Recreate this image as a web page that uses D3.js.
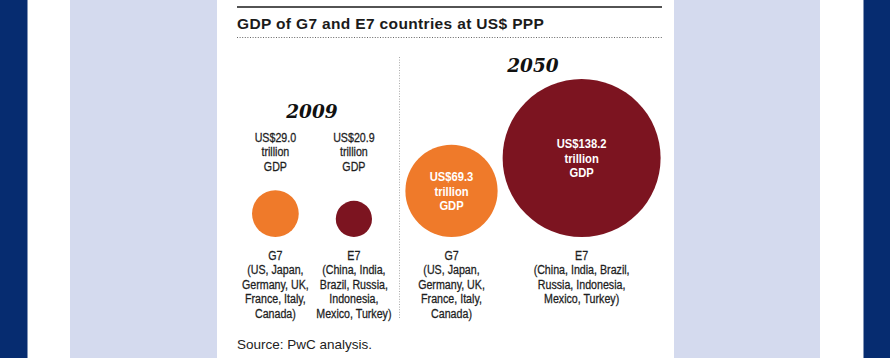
<!DOCTYPE html>
<html><head><meta charset="utf-8">
<script src="https://cdn.jsdelivr.net/npm/d3@7"></script>
<style>body{margin:0;background:#fff}svg{display:block}</style>
</head><body>
<script>
// ---- data ----
const years = ["2009", "2050"];
const groups = ["G7", "E7"];
const gdp2009 = [29.0, 20.9];
const gdp2050 = [69.3, 138.2];
const valueLabels2009 = ["US$29.0", "US$20.9"];
const valueLabels2050 = ["US$69.3", "US$138.2"];
const members2009 = [
  ["(US, Japan,", "Germany, UK,", "France, Italy,", "Canada)"],
  ["(China, India,", "Brazil, Russia,", "Indonesia,", "Mexico, Turkey)"]
];
const members2050 = [
  ["(US, Japan,", "Germany, UK,", "France, Italy,", "Canada)"],
  ["(China, India, Brazil,", "Russia, Indonesia,", "Mexico, Turkey)"]
];
const titleText = "GDP of G7 and E7 countries at US$ PPP";
const sourceText = "Source: PwC analysis.";

// ---- style / layout ----
const W = 890, H = 358;
const NAVY = "#062c70", LAV = "#d4daee";
const groupColor = d3.scaleOrdinal().domain(groups).range(["#ef7a2a", "#7c1420"]);
const sans = "'Liberation Sans',Arial,Helvetica,sans-serif";
const serif = "'DejaVu Serif',Georgia,serif";

const svg = d3.select("body").append("svg").attr("width", W).attr("height", H);

// page frame
svg.append("rect").attr("width", W).attr("height", H).attr("fill", "#fff");
svg.append("rect").attr("x", 0).attr("width", 27.5).attr("height", H).attr("fill", NAVY);
svg.append("rect").attr("x", 863.5).attr("width", 26.5).attr("height", H).attr("fill", NAVY);
svg.append("rect").attr("x", 70).attr("width", 147).attr("height", H).attr("fill", LAV);
svg.append("rect").attr("x", 674).attr("width", 146).attr("height", H).attr("fill", LAV);

const left = 237, right = 662;
svg.append("line").attr("x1", left).attr("x2", right).attr("y1", 7).attr("y2", 7)
  .attr("stroke", "#1a1a1a").attr("stroke-width", 1.6);
svg.append("text").attr("x", left).attr("y", 28.5).text(titleText)
  .attr("font-family", sans).attr("font-weight", "bold").attr("font-size", 15.5)
  .attr("letter-spacing", 0.35).attr("fill", "#1b1b1b");
svg.append("line").attr("x1", left).attr("x2", right).attr("y1", 37.5).attr("y2", 37.5)
  .attr("stroke", "#666").attr("stroke-width", 1).attr("stroke-dasharray", "1,1.6");
svg.append("line").attr("x1", 399.5).attr("x2", 399.5).attr("y1", 57).attr("y2", 319)
  .attr("stroke", "#aaa").attr("stroke-width", 1).attr("stroke-dasharray", "1,1.6");

svg.append("text").attr("x", left).attr("y", 349).text(sourceText)
  .attr("font-family", sans).attr("font-size", 13.5).attr("fill", "#222");

// condensed text helper (horizontal squeeze of Liberation Sans)
function narrowText(parent, x, yc, str, opt) {
  const g = parent.append("g").attr("transform", `translate(${x},${yc}) scale(${opt.squeeze},1)`);
  g.append("text").attr("x", 0).attr("y", 0).attr("dy", "0.36em")
    .attr("text-anchor", "middle").text(str)
    .attr("font-family", sans).attr("font-size", opt.size)
    .attr("font-weight", opt.bold ? "bold" : "normal")
    .attr("fill", opt.fill)
    .attr("stroke", opt.stroke ? opt.fill : "none").attr("stroke-width", 0.3);
}
const darkStyle = {size: 13.5, squeeze: 0.79, bold: false, fill: "#1e1e1e", stroke: true};
const whiteStyle = {size: 13.5, squeeze: 0.83, bold: true, fill: "#fff"};

// scales
const r = d3.scalePow().exponent(0.78).domain([0, d3.max(gdp2050)]).range([0, 79]);
const yearX = d3.scalePoint().domain(years).range([312, 533]);
const baseY = 237;      // circles sit on a common baseline
const lineH = 14.5;

const data = [
  {year: "2009", values: gdp2009, labels: valueLabels2009, members: members2009},
  {year: "2050", values: gdp2050, labels: valueLabels2050, members: members2050}
];

data.forEach(d => {
  const radii = d.values.map(v => r(v));
  const sep = Math.max(radii[0] + radii[1] + 5, 78.5);
  const extentL = -radii[0], extentR = sep + radii[1];
  const offset = yearX(d.year) - (extentL + extentR) / 2;
  const centers = [offset, offset + sep];
  const g = svg.append("g");
  let topY = Infinity;
  d.values.forEach((v, i) => {
    const rad = radii[i], cx = centers[i], cy = baseY - rad;
    g.append("circle").attr("cx", cx).attr("cy", cy).attr("r", rad)
      .attr("fill", groupColor(groups[i]));
    const lines = [d.labels[i], "trillion", "GDP"];
    const inside = rad > 35;
    lines.forEach((t, k) => {
      const yc = inside ? cy + (k - 1) * lineH : (baseY - 71) + (k - 2) * lineH;
      narrowText(g, cx, yc, t, inside ? whiteStyle : darkStyle);
      if (!inside) topY = Math.min(topY, yc - 19);
    });
    if (inside) topY = Math.min(topY, cy - rad - 7);
    const cat = [groups[i]].concat(d.members[i]);
    cat.forEach((t, k) => {
      narrowText(g, cx, baseY + 18 + k * lineH, t, darkStyle);
    });
  });
  g.append("text").attr("x", yearX(d.year)).attr("y", topY).text(d.year)
    .attr("text-anchor", "middle").attr("font-family", serif)
    .attr("font-weight", "bold").attr("font-style", "italic").attr("font-size", 18.5)
    .attr("fill", "#111");
});
</script>
</body></html>
